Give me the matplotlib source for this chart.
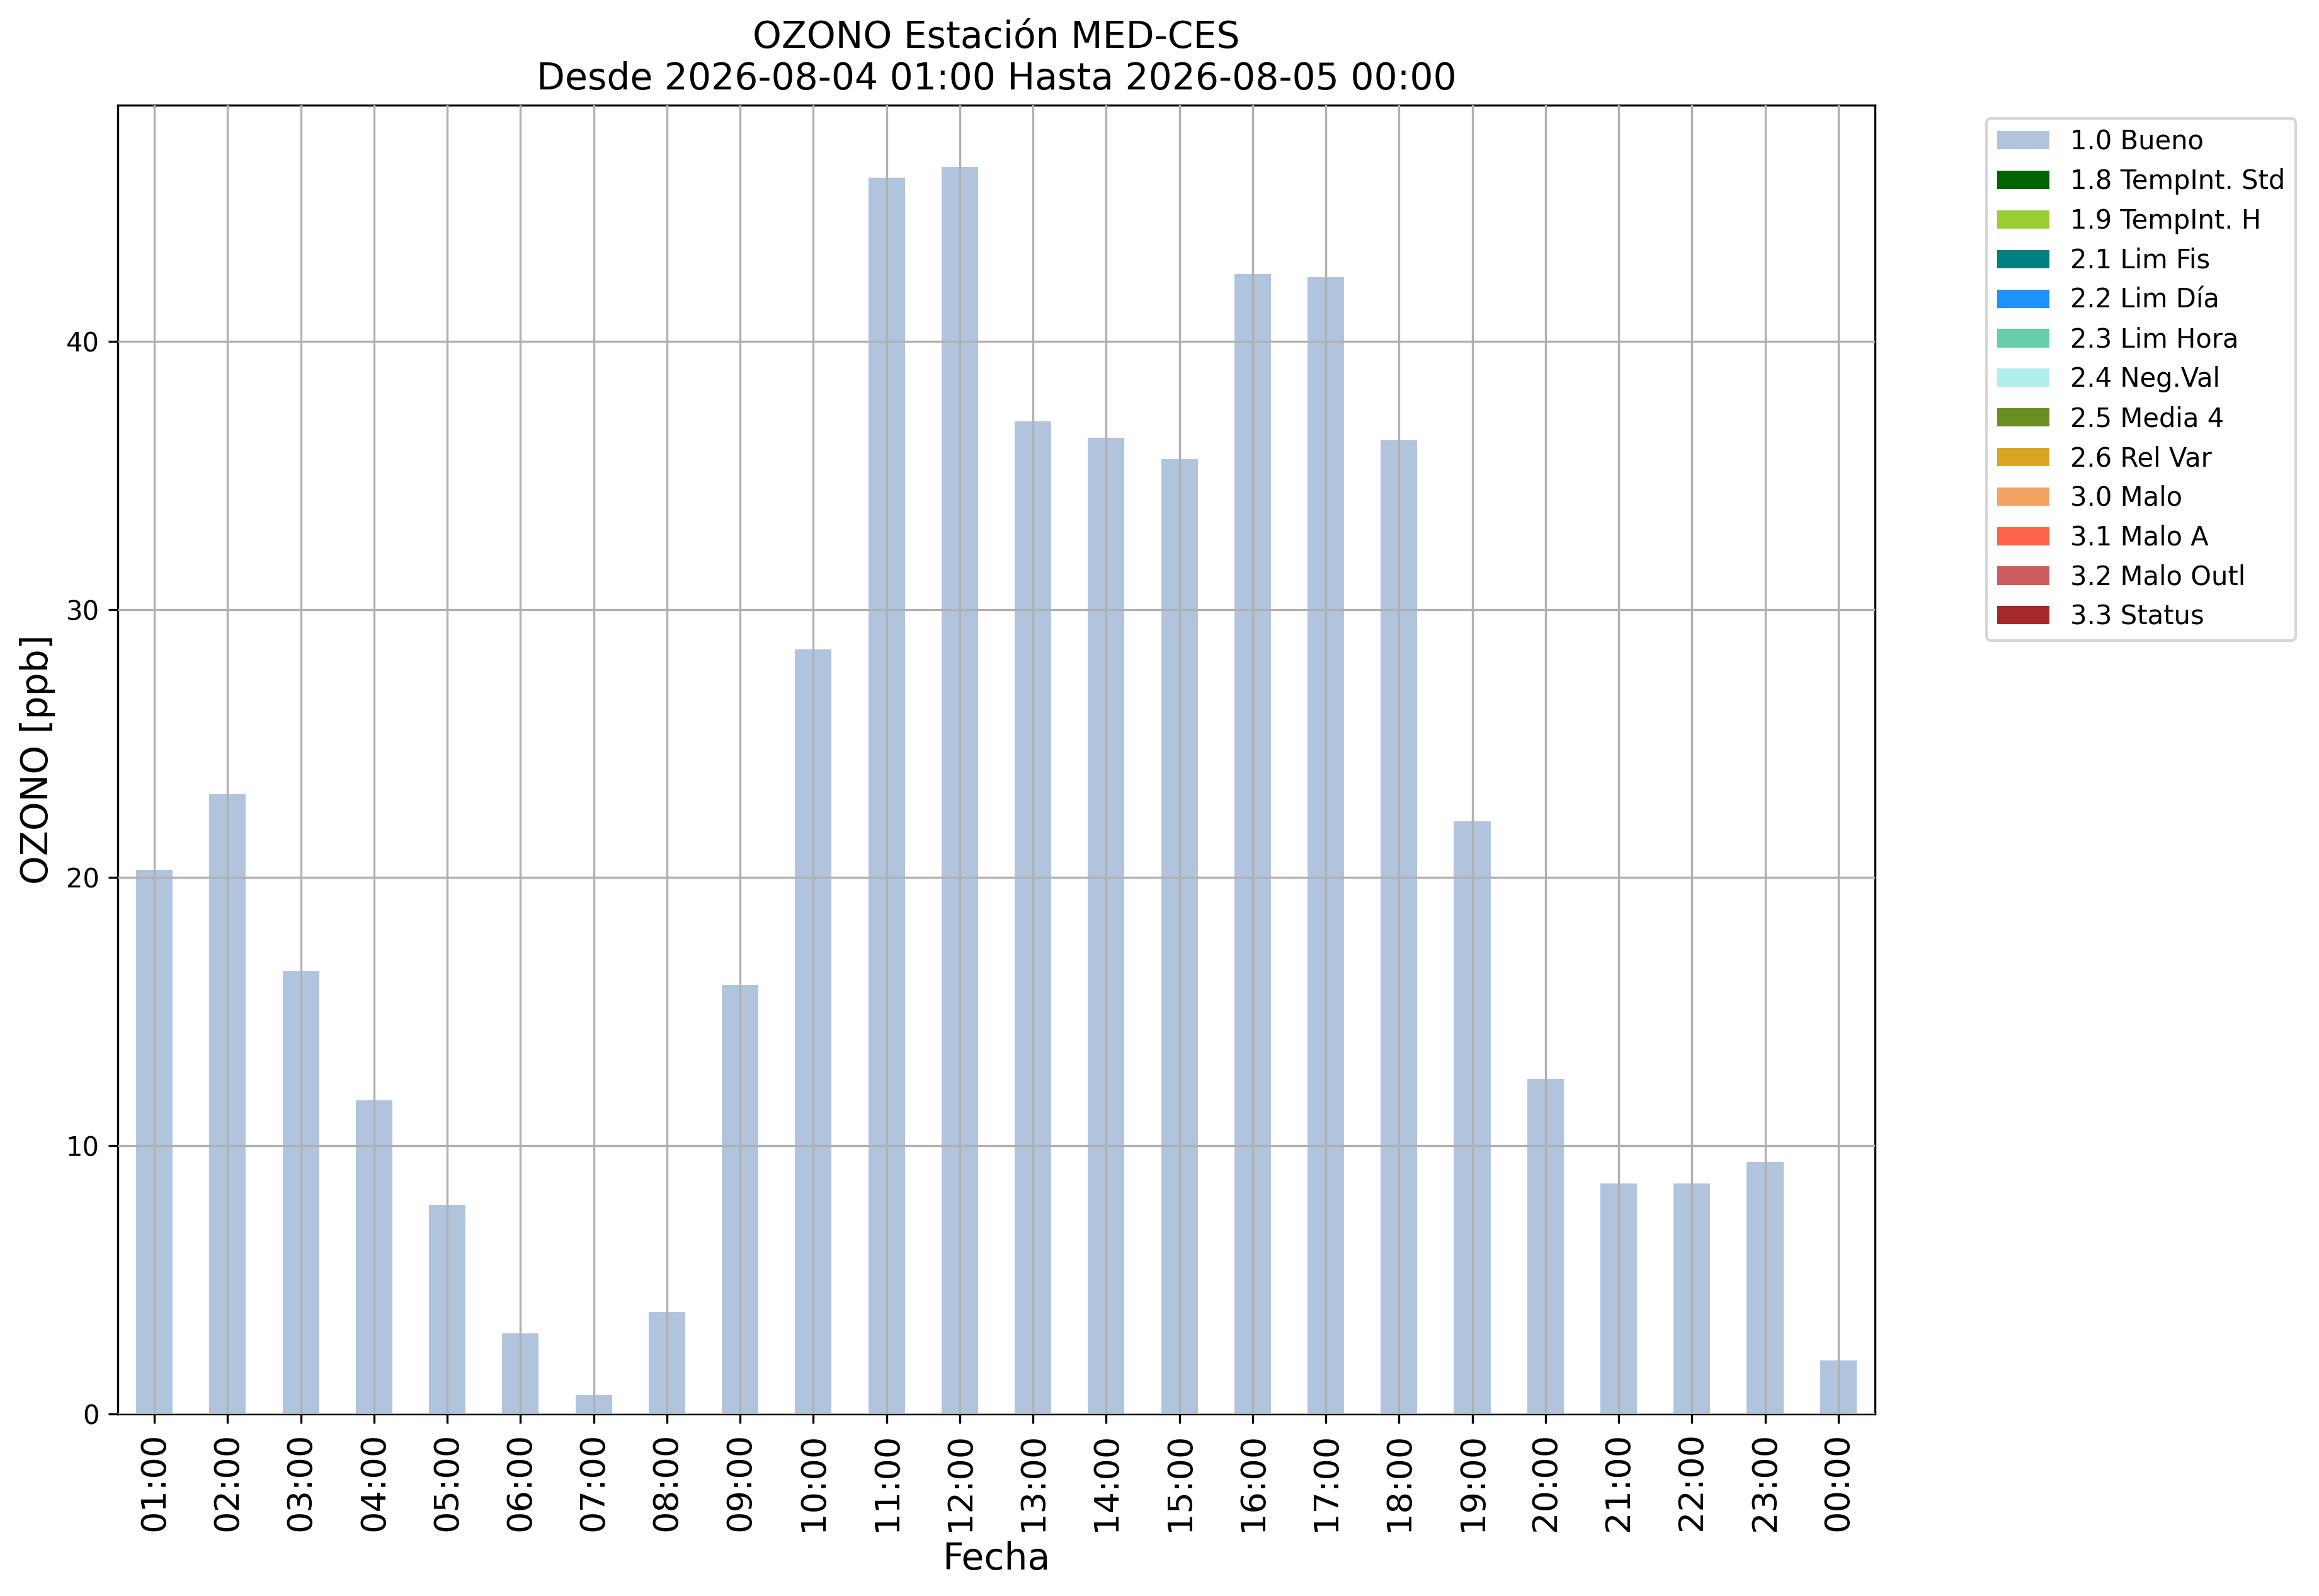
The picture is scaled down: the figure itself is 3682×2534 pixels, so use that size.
import matplotlib
matplotlib.use('Agg')
import matplotlib.pyplot as plt
import numpy as np

# hourly ozone values (ppb), all flagged "1.0 Bueno"
hours = ['01:00', '02:00', '03:00', '04:00', '05:00', '06:00', '07:00', '08:00',
         '09:00', '10:00', '11:00', '12:00', '13:00', '14:00', '15:00', '16:00',
         '17:00', '18:00', '19:00', '20:00', '21:00', '22:00', '23:00', '00:00']
ozono_bueno = [20.3, 23.1, 16.5, 11.7, 7.8, 3.0, 0.7, 3.8, 16.0, 28.5, 46.1, 46.5,
               37.0, 36.4, 35.6, 42.5, 42.4, 36.3, 22.1, 12.5, 8.6, 8.6, 9.4, 2.0]

flag_names = ['1.0 Bueno', '1.8 TempInt. Std', '1.9 TempInt. H', '2.1 Lim Fis',
              '2.2 Lim Día', '2.3 Lim Hora', '2.4 Neg.Val', '2.5 Media 4',
              '2.6 Rel Var', '3.0 Malo', '3.1 Malo A', '3.2 Malo Outl', '3.3 Status']
flag_colors = ['lightsteelblue', 'darkgreen', 'yellowgreen', 'teal', 'dodgerblue',
               'mediumaquamarine', 'paleturquoise', 'olivedrab', 'goldenrod',
               'sandybrown', 'tomato', 'indianred', 'brown']

# values per flag column: only the "Bueno" column has data in this period
series = {name: [0.0] * len(hours) for name in flag_names}
series['1.0 Bueno'] = ozono_bueno

fig = plt.figure(figsize=(3682 / 300, 2534 / 300), dpi=300)
ax = fig.add_axes([0.0508, 0.1140, 0.8085 - 0.0508, 0.9341 - 0.1140])

x = np.arange(len(hours))
bottom = np.zeros(len(hours))
for name, color in zip(flag_names, flag_colors):
    vals = np.array(series[name])
    ax.bar(x, vals, width=0.5, bottom=bottom, color=color, label=name,
           linewidth=0, zorder=1)
    bottom += vals

ax.set_xlim(-0.5, len(hours) - 0.5)
ax.set_ylim(0, 48.8)
ax.set_yticks([0, 10, 20, 30, 40])
ax.set_xticks(x)
ax.set_xticklabels(hours, rotation=90, fontsize=13)
ax.tick_params(axis='y', labelsize=10)
ax.grid(True, color='#b0b0b0', linewidth=0.8, zorder=2)
ax.set_axisbelow(False)

ax.set_xlabel('Fecha', fontsize=14)
ax.set_ylabel('OZONO [ppb]', fontsize=14)
ax.set_title('OZONO Estación MED-CES\nDesde 2026-08-04 01:00 Hasta 2026-08-05 00:00',
             fontsize=14)

ax.legend(bbox_to_anchor=(1.056, 1), loc='upper left', fontsize=10)

fig.savefig('out.png', dpi=300)
plt.close(fig)
